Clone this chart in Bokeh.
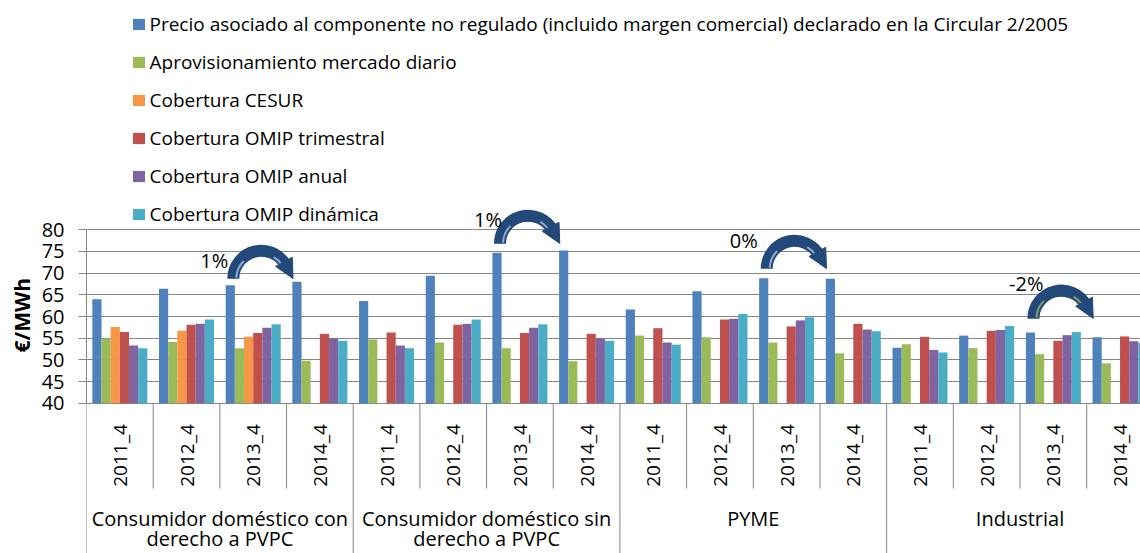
import math
from bokeh.plotting import figure
from bokeh.models import Range1d, FixedTicker, Legend, LegendItem, Title, Arrow, NormalHead
from bokeh.core.properties import value
from bokeh.embed import file_html
from bokeh.resources import INLINE

# ---------------- data ----------------
years = ["2011_4", "2012_4", "2013_4", "2014_4"]
groups = ["Consumidor doméstico con\nderecho a PVPC",
          "Consumidor doméstico sin\nderecho a PVPC",
          "PYME",
          "Industrial"]
series_names = [
    "Precio asociado al componente no regulado (incluido margen comercial) declarado en la Circular 2/2005",
    "Aprovisionamiento mercado diario",
    "Cobertura CESUR",
    "Cobertura OMIP trimestral",
    "Cobertura OMIP anual",
    "Cobertura OMIP dinámica",
]
precio = [64.0, 66.4, 67.2, 68.0, 63.6, 69.4, 74.7, 75.2, 61.6, 65.8, 68.8, 68.7, 52.8, 55.6, 56.3, 55.2]
diario = [54.9, 54.1, 52.7, 49.8, 54.7, 54.0, 52.7, 49.7, 55.6, 55.2, 54.0, 51.5, 53.6, 52.7, 51.3, 49.2]
cesur = [57.6, 56.7, 55.3, None, None, None, None, None, None, None, None, None, None, None, None, None]
trimestral = [56.4, 58.1, 56.2, 56.0, 56.3, 58.1, 56.2, 56.0, 57.3, 59.3, 57.7, 58.3, 55.3, 56.7, 54.4, 55.4]
anual = [53.3, 58.3, 57.4, 55.0, 53.3, 58.3, 57.4, 55.0, 54.0, 59.5, 59.1, 57.0, 52.3, 56.9, 55.7, 54.3]
dinamica = [52.7, 59.3, 58.2, 54.4, 52.7, 59.3, 58.2, 54.4, 53.5, 60.6, 59.8, 56.6, 51.7, 57.8, 56.4, 53.9]
y_ticks = [40, 45, 50, 55, 60, 65, 70, 75, 80]
y_title = "€/MWh"
pct_labels = ["1%", "1%", "0%", "-2%"]

# annotation placement (curved arrows drawn over each group's 2013 -> 2014 bars)
arrow_foot = [68.7, 76.8, 71.0, 59.5]
pct_dx_px = [-5, 2, -9, 10]
pct_dy_px = [18, 24, 28, 35]
highlight_colors = ["#A9C4E3", "#A9C4E3", "#A9C4E3", "#9BBB59"]

# ---------------- style / layout ----------------
colors = ["#4F81BD", "#9BBB59", "#F79646", "#C0504D", "#8064A2", "#4BACC6"]
FONT = "Open Sans"
GRAY = "#868686"
ARROW = "#23497A"
W, H = 1140, 553
LEFT = 86
PX_X = 66.68          # px per category
PX_Y = 4.335          # px per €/MWh
Y80 = 229.3           # y (px from top) of the 80 gridline
Y40 = Y80 + 40 * PX_Y
x_end = (W - LEFT) / PX_X
y_top = 80 + Y80 / PX_Y
y_bot = 40 - (H - Y40) / PX_Y
SLOT = 0.1375


def vy(py):
    """value at a given pixel row below the 40 line (layout helper)"""
    return 40 - (py - Y40) / PX_Y


n_cat = len(groups) * len(years)
all_series = [precio, diario, cesur, trimestral, anual, dinamica]

p = figure(width=W, height=H, x_range=Range1d(0, x_end), y_range=Range1d(y_bot, y_top),
           output_backend="svg", toolbar_location=None, title=None,
           min_border_left=LEFT, min_border_right=0, min_border_top=0, min_border_bottom=0)
p.outline_line_color = None
p.xaxis.visible = False
p.xgrid.visible = False

p.yaxis.ticker = FixedTicker(ticks=y_ticks)
p.ygrid.ticker = FixedTicker(ticks=y_ticks)
p.yaxis.bounds = (y_ticks[0], y_ticks[-1])
p.yaxis.axis_line_color = GRAY
p.yaxis.major_tick_line_color = GRAY
p.yaxis.minor_tick_line_color = None
p.yaxis.major_tick_out = 8
p.yaxis.major_tick_in = 0
p.yaxis.major_label_standoff = 14
p.yaxis.major_label_text_font = FONT
p.yaxis.major_label_text_font_size = "20px"
p.yaxis.major_label_text_color = "black"
p.ygrid.grid_line_color = GRAY
p.ygrid.grid_line_width = 1

# y axis title, placed in a left side panel so that it sits beside the 40-80 span
p.add_layout(Title(text=y_title, align="left", offset=H - 352, vertical_align="middle",
                   text_font=FONT, text_font_style="bold", text_font_size="21px",
                   text_color="black", standoff=4), "left")

base = y_ticks[0]
renderers = []
for s, (vals, col) in enumerate(zip(all_series, colors)):
    off = (s - 2.5) * SLOT
    xs = [i + 0.5 + off for i in range(n_cat)]
    tops = [float("nan") if v is None else v for v in vals]
    r = p.vbar(x=xs, top=tops, bottom=base, width=SLOT, fill_color=col, line_color=None)
    renderers.append(r)

# category separators
sx = list(range(n_cat + 1))
p.segment(x0=sx, x1=sx, y0=[y_bot if i % len(years) == 0 else vy(488) for i in sx],
          y1=[base] * len(sx), line_color=GRAY, line_width=1)

# year labels
p.text(x=[i + 0.5 for i in range(n_cat)], y=[vy(455)] * n_cat,
       text=[years[i % len(years)] for i in range(n_cat)], angle=math.pi / 2,
       text_align="center", text_baseline="middle", text_font=value(FONT),
       text_font_size="19px", text_color="black")

# group labels
gx = [g * len(years) + len(years) / 2 for g in range(len(groups))]
line1 = [g.split("\n")[0] for g in groups]
line2 = [g.split("\n")[1] if "\n" in g else "" for g in groups]
p.text(x=gx, y=[vy(518)] * len(groups), text=line1,
       text_align="center", text_baseline="middle", text_font=value(FONT),
       text_font_size="20px", text_color="black")
p.text(x=gx, y=[vy(538)] * len(groups), text=line2,
       text_align="center", text_baseline="middle", text_font=value(FONT),
       text_font_size="20px", text_color="black")

# curved arrows with % change
R = 28
TH_END = 0.5
for g in range(len(groups)):
    i13 = g * len(years) + 2
    foot_x = i13 + 0.5 - 2.5 * SLOT + 3 / PX_X
    cx = foot_x + R / PX_X
    cy = arrow_foot[g]
    p.arc(x=[cx], y=[cy], radius=R, radius_units="screen", start_angle=TH_END,
          end_angle=math.pi, direction="anticlock", line_width=12, line_color=ARROW)
    for a0, a1 in [(2.35, 3.1), (0.6, 1.05)]:
        p.arc(x=[cx], y=[cy], radius=R - 3, radius_units="screen", start_angle=a0,
              end_angle=a1, direction="anticlock", line_width=2,
              line_color=highlight_colors[g], line_alpha=0.8)
    ex = cx + R * math.cos(TH_END) / PX_X
    ey = cy + R * math.sin(TH_END) / PX_Y
    hl = 15
    tx = ex + hl * math.sin(TH_END) / PX_X
    ty = ey - hl * math.cos(TH_END) / PX_Y
    p.add_layout(Arrow(end=NormalHead(size=19, fill_color=ARROW, line_color=ARROW),
                       x_start=ex, y_start=ey, x_end=tx, y_end=ty, line_alpha=0))
    p.text(x=[foot_x + pct_dx_px[g] / PX_X], y=[cy + pct_dy_px[g] / PX_Y], text=[pct_labels[g]],
           text_align="right", text_baseline="middle", text_font=value(FONT),
           text_font_size="20px", text_color="black")

legend = Legend(items=[LegendItem(label=n, renderers=[r]) for n, r in zip(series_names, renderers)],
                location=(44.5, 326), orientation="vertical")
legend.label_text_font = FONT
legend.label_text_font_size = "19px"
legend.label_text_color = "black"
legend.glyph_width = 15
legend.glyph_height = 14
legend.label_height = 26
legend.spacing = 12
legend.padding = 0
legend.margin = 0
legend.label_standoff = 4
legend.border_line_alpha = 0
legend.background_fill_alpha = 0
p.add_layout(legend)

open("out.html", "w").write(file_html(p, INLINE))
